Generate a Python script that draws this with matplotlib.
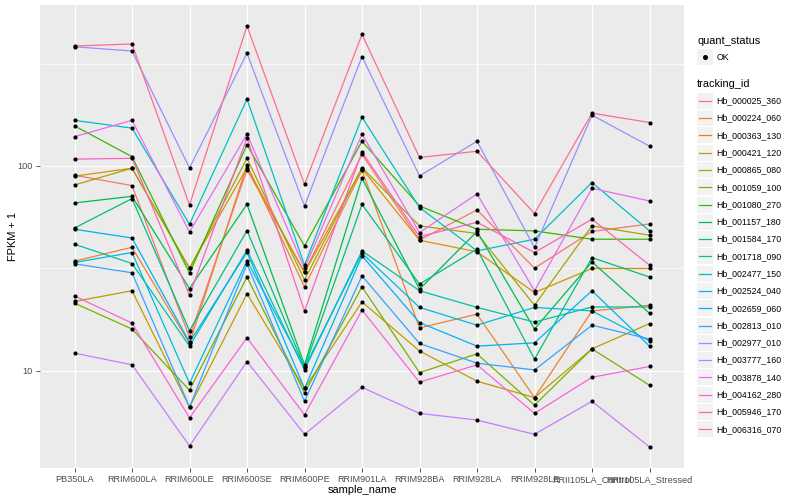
import numpy as np
import matplotlib
matplotlib.use("Agg")
import matplotlib.pyplot as plt
from matplotlib.patches import Rectangle
from matplotlib.ticker import FixedLocator, NullFormatter

plt.rcParams['font.family'] = ['Liberation Sans', 'DejaVu Sans']

# muestras (eje x)
samples = ['PB350LA', 'RRIM600LA', 'RRIM600LE', 'RRIM600SE', 'RRIM600PE',
           'RRIM901LA', 'RRIM928BA', 'RRIM928LA', 'RRIM928LE',
           'RRII105LA_Control', 'RRII105LA_Stressed']

tracking_ids = ['Hb_000025_360', 'Hb_000224_060', 'Hb_000363_130', 'Hb_000421_120',
                'Hb_000865_080', 'Hb_001059_100', 'Hb_001080_270', 'Hb_001157_180',
                'Hb_001584_170', 'Hb_001718_090', 'Hb_002477_150', 'Hb_002524_040',
                'Hb_002659_060', 'Hb_002813_010', 'Hb_002977_010', 'Hb_003777_160',
                'Hb_003878_140', 'Hb_004162_280', 'Hb_005946_170', 'Hb_006316_070']

# FPKM + 1 por gen, en el orden de samples
hb_000025_360 = [90.1, 80.2, 14.6, 96.0, 30.2, 114, 43.5, 61.0, 31.7, 47.9, 52.1]
hb_000224_060 = [34.3, 40.1, 13.6, 101, 25.7, 95.3, 16.2, 18.9, 7.4, 19.6, 20.9]
hb_000363_130 = [89.1, 97.5, 31.7, 98.2, 30.2, 97.1, 43.4, 38.1, 24.1, 31.6, 31.6]
hb_000421_120 = [21.8, 24.6, 6.65, 23.8, 8.2, 21.7, 12.5, 8.9, 7.4, 12.8, 17.0]
hb_000865_080 = [80.8, 97.5, 31.6, 109, 27.8, 98.2, 51.0, 46.8, 20.9, 51.0, 45.9]
hb_001059_100 = [21.4, 16.0, 8.05, 28.7, 7.8, 25.7, 9.8, 12.1, 6.8, 12.8, 8.5]
hb_001080_270 = [157, 111, 30.0, 127, 40.7, 132, 63.8, 49.1, 48.2, 43.9, 43.9]
hb_001157_180 = [66.0, 71.1, 25.2, 65.0, 10.7, 87.1, 25.0, 47.9, 16.0, 34.0, 19.1]
hb_001584_170 = [49.8, 69.3, 15.7, 48.4, 10.4, 65.0, 26.5, 39.3, 11.4, 35.7, 28.7]
hb_001718_090 = [41.5, 33.4, 13.2, 38.8, 10.1, 38.5, 24.6, 20.4, 17.3, 20.5, 20.5]
hb_002477_150 = [167, 153, 51.9, 212, 32.8, 173, 62.7, 38.5, 43.9, 83.0, 48.2]
hb_002524_040 = [33.8, 37.8, 8.7, 34.4, 10.4, 37.5, 20.4, 16.7, 20.4, 19.6, 14.0]
hb_002659_060 = [49.1, 44.5, 13.8, 37.9, 8.2, 36.4, 17.2, 13.2, 13.7, 24.6, 13.2]
hb_002813_010 = [33.3, 30.1, 6.65, 33.2, 7.1, 29.1, 13.6, 10.9, 10.1, 16.7, 14.3]
hb_002977_010 = [382, 364, 97.8, 355, 63.8, 342, 89.4, 132, 40.0, 177, 125]
hb_003777_160 = [12.2, 10.7, 4.3, 11.1, 4.9, 8.3, 6.2, 5.75, 4.9, 7.1, 4.25]
hb_003878_140 = [139, 167, 47.6, 143, 31.6, 143, 47.3, 73.0, 24.6, 77.8, 67.5]
hb_004162_280 = [23.2, 17.1, 5.9, 14.5, 6.1, 19.8, 8.8, 10.7, 6.2, 9.3, 10.5]
hb_005946_170 = [108, 109, 23.4, 137, 19.6, 117, 45.2, 53.1, 37.8, 55.0, 32.8]
hb_006316_070 = [385, 394, 64.5, 482, 81.2, 439, 110, 118, 58.6, 181, 163]

series = [hb_000025_360, hb_000224_060, hb_000363_130, hb_000421_120, hb_000865_080,
          hb_001059_100, hb_001080_270, hb_001157_180, hb_001584_170, hb_001718_090,
          hb_002477_150, hb_002524_040, hb_002659_060, hb_002813_010, hb_002977_010,
          hb_003777_160, hb_003878_140, hb_004162_280, hb_005946_170, hb_006316_070]

# paleta tipo ggplot (hue)
colores = ['#F8766D', '#EA8331', '#D89000', '#C09B00', '#A3A500', '#7CAE00', '#39B600',
           '#00BB4E', '#00BF7D', '#00C1A3', '#00BFC4', '#00BAE0', '#00B0F6', '#35A2FF',
           '#9590FF', '#C77CFF', '#E76BF3', '#FA62DB', '#FF62BC', '#FF6C91']

fig = plt.figure(figsize=(8, 5), dpi=100)
ax = fig.add_axes([40/800, 1 - 468/500, 644/800, 463/500])
ax.set_facecolor('#EBEBEB')
for s in ax.spines.values():
    s.set_visible(False)

x = np.arange(len(samples))
for vals, c in zip(series, colores):
    ax.plot(x, vals, color=c, lw=0.9, zorder=3)
for vals in series:
    ax.scatter(x, vals, s=9, color='black', marker='o', linewidths=0, zorder=4)

ax.set_yscale('log')
todos = np.log10(np.concatenate([np.array(v) for v in series]))
lo, hi = todos.min(), todos.max()
pad = 0.05 * (hi - lo)
ax.set_ylim(10**(lo - pad), 10**(hi + pad))
ax.set_xlim(-0.6, len(samples) - 0.4)

ax.set_yticks([10, 100])
ax.set_yticklabels(['10', '100'])
ax.yaxis.set_minor_locator(FixedLocator([10**0.5, 10**1.5, 10**2.5]))
ax.yaxis.set_minor_formatter(NullFormatter())
ax.set_xticks(x)
ax.set_xticklabels(samples)
ax.tick_params(axis='both', which='major', length=3, width=0.6, color='#333333',
               labelsize=6.6, labelcolor='#4D4D4D', pad=2)
ax.tick_params(axis='y', which='minor', length=0)
ax.grid(which='major', color='white', lw=0.9, zorder=0)
ax.grid(which='minor', axis='y', color='white', lw=0.5, zorder=0)
ax.set_axisbelow(True)

ax.set_xlabel('sample_name', fontsize=7.9, va='center')
ax.xaxis.set_label_coords(0.5, (468 - 490) / 463)
ax.set_ylabel('FPKM + 1', fontsize=7.9, va='center')
ax.yaxis.set_label_coords((13 - 40) / 644, 0.5)

# leyendas a mano, en coordenadas de pixel
lax = fig.add_axes([0, 0, 1, 1], facecolor='none')
lax.set_xlim(0, 800)
lax.set_ylim(500, 0)
lax.axis('off')

lax.text(697, 41, 'quant_status', fontsize=7.9, va='center', ha='left')
lax.add_patch(Rectangle((697.3, 49.3), 15.4, 16, facecolor='#F2F2F2', edgecolor='none'))
lax.plot([705], [57.3], marker='o', ms=2.6, color='black')
lax.text(716.7, 57.3, 'OK', fontsize=6.3, va='center', ha='left')

lax.text(697, 84.3, 'tracking_id', fontsize=7.9, va='center', ha='left')
y0, paso = 100.8, 17.29
for i, (tid, c) in enumerate(zip(tracking_ids, colores)):
    yc = y0 + i * paso
    lax.add_patch(Rectangle((697.3, yc - 8), 15.4, 16, facecolor='#F2F2F2', edgecolor='none'))
    lax.plot([698.8, 711.2], [yc, yc], color=c, lw=0.9)
    lax.text(716.7, yc, tid, fontsize=6.3, va='center', ha='left')

fig.savefig('out.png', dpi=100)
